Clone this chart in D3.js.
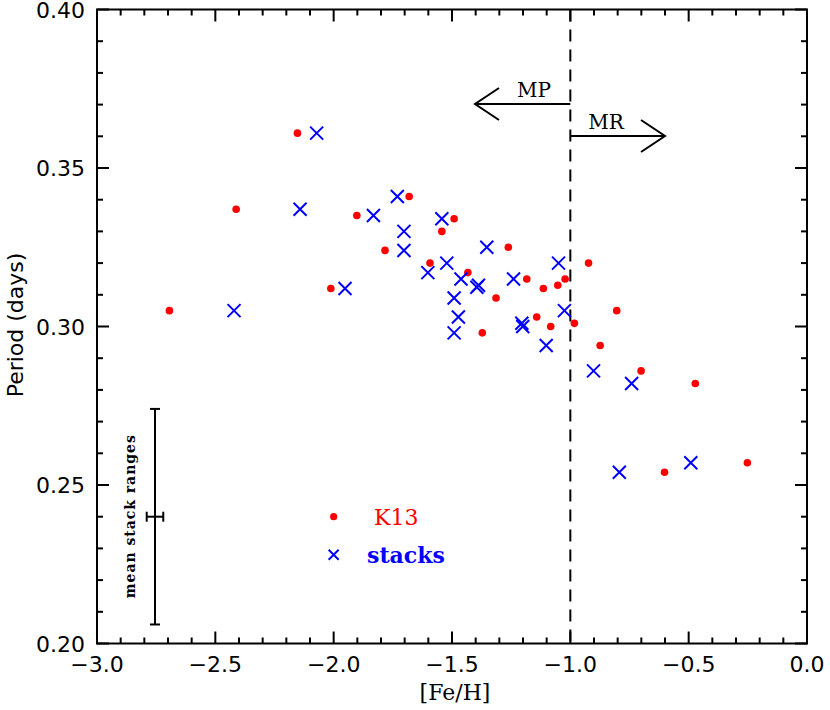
<!DOCTYPE html>
<html>
<head>
<meta charset="utf-8">
<script src="https://cdn.jsdelivr.net/npm/d3@7"></script>
<style>
  body { margin: 0; background: #fff; }
  svg { display: block; }
</style>
</head>
<body>
<svg width="830" height="710"></svg>
<script>
// K13 periods vs metallicity
let k13Feh = [-2.153, -2.412, -1.902, -1.783, -2.012, -2.694, -1.681, -1.491, -1.543, -1.262,
  -1.593, -0.923, -1.433, -1.184, -1.022, -1.114, -1.053, -1.314, -0.804, -1.142,
  -0.983, -1.083, -1.372, -0.874, -0.701, -0.472, -0.602, -0.252];
let k13Period = [0.361, 0.337, 0.335, 0.324, 0.312, 0.305, 0.341, 0.334, 0.330, 0.325,
  0.320, 0.320, 0.317, 0.315, 0.315, 0.312, 0.313, 0.309, 0.305, 0.303,
  0.301, 0.300, 0.298, 0.294, 0.286, 0.282, 0.254, 0.257];

// stacks
let stackFeh = [-2.072, -2.142, -1.832, -1.952, -2.421, -1.731, -1.543, -1.703, -1.703, -1.353,
  -1.522, -1.050, -1.602, -1.462, -1.240, -1.388, -1.395, -1.491, -1.025, -1.473,
  -1.205, -1.201, -1.491, -1.102, -0.902, -0.741, -0.793, -0.491];
let stackPeriod = [0.361, 0.337, 0.335, 0.312, 0.305, 0.341, 0.334, 0.330, 0.324, 0.325,
  0.320, 0.320, 0.317, 0.315, 0.315, 0.313, 0.3124, 0.309, 0.305, 0.303,
  0.301, 0.300, 0.298, 0.294, 0.286, 0.282, 0.254, 0.257];

let xTicks = [-3.0, -2.5, -2.0, -1.5, -1.0, -0.5, 0.0];
let yTicks = [0.20, 0.25, 0.30, 0.35, 0.40];

// mean stack range bar: centre and half ranges
let errX = -2.755, errY = 0.240, errXHalf = 0.035, errYLow = 0.206, errYHigh = 0.274;
let divideFeh = -1.0;

let svg = d3.select('svg');
let marge = { top: 9.5, bottom: 66.5, left: 97, right: 23 };
let width = +svg.attr('width');
let height = +svg.attr('height');

let x = d3.scaleLinear().domain([-3.0, 0.0]).range([marge.left, width - marge.right]);
let y = d3.scaleLinear().domain([0.20, 0.40]).range([height - marge.bottom, marge.top]);

let sans = '"DejaVu Sans", "Liberation Sans", sans-serif';
let serif = '"DejaVu Serif", "Liberation Serif", serif';

function fmt(v) {
  return d3.format('.1f')(v).replace('-', '\u2212');
}

// axes box with inward ticks on all four sides
let axisG = svg.append('g');
let xMinor = d3.range(-30, 1).map(d => d / 10);
let yMinor = d3.range(20, 41).map(d => d / 100);

function isMajorX(v) { return Math.abs(v * 2 - Math.round(v * 2)) < 1e-6; }
function isMajorY(v) { return Math.abs(v * 20 - Math.round(v * 20)) < 1e-6; }

xMinor.forEach(function(v) {
  let len = isMajorX(v) ? 12 : 6;
  axisG.append('line').attr('x1', x(v)).attr('x2', x(v))
    .attr('y1', y(0.20)).attr('y2', y(0.20) - len);
  axisG.append('line').attr('x1', x(v)).attr('x2', x(v))
    .attr('y1', y(0.40)).attr('y2', y(0.40) + len);
});
yMinor.forEach(function(v) {
  let len = isMajorY(v) ? 12 : 6;
  axisG.append('line').attr('x1', x(-3)).attr('x2', x(-3) + len)
    .attr('y1', y(v)).attr('y2', y(v));
  axisG.append('line').attr('x1', x(0)).attr('x2', x(0) - len)
    .attr('y1', y(v)).attr('y2', y(v));
});
axisG.append('rect')
  .attr('x', x(-3)).attr('y', y(0.40))
  .attr('width', x(0) - x(-3)).attr('height', y(0.20) - y(0.40))
  .attr('fill', 'none');
axisG.selectAll('line, rect').attr('stroke', 'black').attr('stroke-width', 2);

// tick labels
svg.append('g').selectAll('text')
  .data(xTicks)
  .enter().append('text')
  .attr('x', d => x(d))
  .attr('y', y(0.20) + 28)
  .attr('text-anchor', 'middle')
  .style('font-family', sans)
  .style('font-size', '22px')
  .text(d => fmt(d));

svg.append('g').selectAll('text')
  .data(yTicks)
  .enter().append('text')
  .attr('x', x(-3) - 12)
  .attr('y', d => y(d) + 8)
  .attr('text-anchor', 'end')
  .style('font-family', sans)
  .style('font-size', '22px')
  .text(d => d3.format('.2f')(d));

// axis titles
svg.append('text')
  .attr('x', 455).attr('y', 700)
  .attr('text-anchor', 'middle')
  .style('font-family', serif)
  .style('font-size', '22px')
  .text('[Fe/H]');

svg.append('text')
  .attr('transform', 'translate(23,' + 325 + ') rotate(-90)')
  .attr('text-anchor', 'middle')
  .style('font-family', sans)
  .style('font-size', '22px')
  .text('Period (days)');

// dividing line between MP and MR
svg.append('line')
  .attr('x1', x(divideFeh)).attr('x2', x(divideFeh))
  .attr('y1', y(0.40)).attr('y2', y(0.20))
  .attr('stroke', 'black').attr('stroke-width', 2)
  .attr('stroke-dasharray', '12,8');

// arrows
let arrows = svg.append('g').attr('stroke', 'black').attr('stroke-width', 2).attr('fill', 'none');
let mpY = 104, mrY = 136;
arrows.append('path').attr('d', 'M' + x(divideFeh) + ',' + mpY + 'H475 M499,88 L475,' + mpY + ' L499,120');
arrows.append('path').attr('d', 'M' + x(divideFeh) + ',' + mrY + 'H665 M641,120 L665,' + mrY + ' L641,152');
svg.append('text').attr('x', 534).attr('y', 97)
  .attr('text-anchor', 'middle')
  .style('font-family', serif).style('font-size', '20px')
  .text('MP');
svg.append('text').attr('x', 606).attr('y', 129)
  .attr('text-anchor', 'middle')
  .style('font-family', serif).style('font-size', '20px')
  .text('MR');

// K13 points
svg.append('g').selectAll('circle')
  .data(d3.range(k13Feh.length))
  .enter().append('circle')
  .attr('cx', i => x(k13Feh[i]))
  .attr('cy', i => y(k13Period[i]))
  .attr('r', 3.8)
  .attr('fill', '#ff0000');

// stack crosses
let cross = 6.5;
svg.append('g').selectAll('path')
  .data(d3.range(stackFeh.length))
  .enter().append('path')
  .attr('d', function(i) {
    let cx = x(stackFeh[i]);
    let cy = y(stackPeriod[i]);
    return 'M' + (cx - cross) + ',' + (cy - cross) + 'L' + (cx + cross) + ',' + (cy + cross) +
      'M' + (cx - cross) + ',' + (cy + cross) + 'L' + (cx + cross) + ',' + (cy - cross);
  })
  .attr('stroke', '#0000ff')
  .attr('stroke-width', 2)
  .attr('fill', 'none');

// mean stack range error bar
let eb = svg.append('g').attr('stroke', 'black').attr('stroke-width', 2);
eb.append('line').attr('x1', x(errX)).attr('x2', x(errX)).attr('y1', y(errYLow)).attr('y2', y(errYHigh));
eb.append('line').attr('x1', x(errX) - 5).attr('x2', x(errX) + 5).attr('y1', y(errYLow)).attr('y2', y(errYLow));
eb.append('line').attr('x1', x(errX) - 5).attr('x2', x(errX) + 5).attr('y1', y(errYHigh)).attr('y2', y(errYHigh));
eb.append('line').attr('x1', x(errX - errXHalf)).attr('x2', x(errX + errXHalf)).attr('y1', y(errY)).attr('y2', y(errY));
eb.append('line').attr('x1', x(errX - errXHalf)).attr('x2', x(errX - errXHalf)).attr('y1', y(errY) - 5).attr('y2', y(errY) + 5);
eb.append('line').attr('x1', x(errX + errXHalf)).attr('x2', x(errX + errXHalf)).attr('y1', y(errY) - 5).attr('y2', y(errY) + 5);
svg.append('text')
  .attr('transform', 'translate(135,' + y(errY) + ') rotate(-90)')
  .attr('text-anchor', 'middle')
  .attr('textLength', 163)
  .attr('lengthAdjust', 'spacing')
  .style('font-family', serif).style('font-size', '14px').style('font-weight', 'bold')
  .text('mean stack ranges');

// legend
let legX = x(-2.0);
svg.append('circle').attr('cx', legX).attr('cy', y(0.24)).attr('r', 3.6).attr('fill', '#ff0000');
svg.append('text').attr('x', 374).attr('y', 525)
  .style('font-family', serif).style('font-size', '22px').attr('fill', '#ff0000')
  .text('K13');
let ly = y(0.228), lc = 5;
svg.append('path')
  .attr('d', 'M' + (legX - lc) + ',' + (ly - lc) + 'L' + (legX + lc) + ',' + (ly + lc) +
    'M' + (legX - lc) + ',' + (ly + lc) + 'L' + (legX + lc) + ',' + (ly - lc))
  .attr('stroke', '#0000ff').attr('stroke-width', 2);
svg.append('text').attr('x', 367).attr('y', 563)
  .style('font-family', serif).style('font-size', '22px').style('font-weight', 'bold').attr('fill', '#0000ff')
  .text('stacks');
</script>
</body>
</html>
